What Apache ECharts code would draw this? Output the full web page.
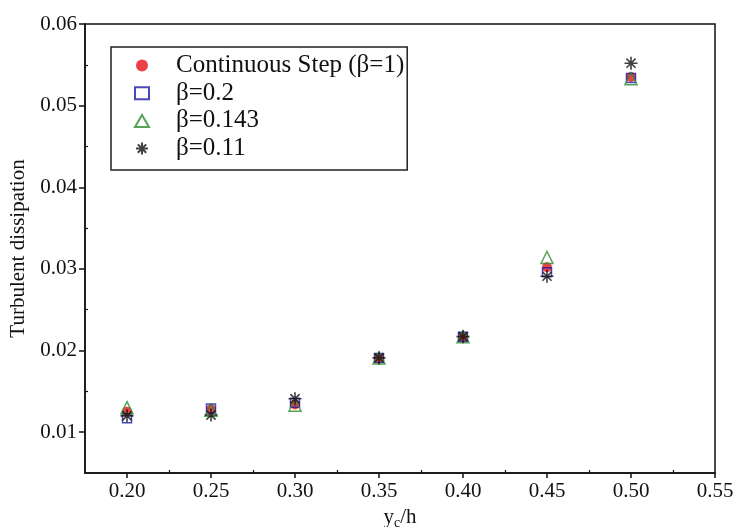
<!DOCTYPE html>
<html>
<head>
<meta charset="utf-8">
<script src="https://cdn.jsdelivr.net/npm/echarts@6/dist/echarts.min.js"></script>
<style>
  html, body { margin: 0; padding: 0; background: #fff; }
  #chart { width: 736px; height: 527px; }
</style>
</head>
<body>
<div id="chart"></div>
<script>
// y_c/h positions
const xValues = [0.20, 0.25, 0.30, 0.35, 0.40, 0.45, 0.50]
// turbulent dissipation per case
const continuousStep = [0.0125, 0.0128, 0.0134, 0.0191, 0.0217, 0.0302, 0.0535]
const beta02 = [0.0117, 0.0129, 0.0136, 0.0191, 0.0217, 0.0296, 0.0534]
const beta0143 = [0.0130, 0.0127, 0.0133, 0.0191, 0.0217, 0.0314, 0.0533]
const beta011 = [0.0120, 0.0121, 0.0141, 0.0191, 0.0217, 0.0291, 0.0552]
// axis ticks
const xTicks = [0.20, 0.25, 0.30, 0.35, 0.40, 0.45, 0.50, 0.55]
const xMinorTicks = [0.225, 0.275, 0.325, 0.375, 0.425, 0.475, 0.525]
const yTicks = [0.01, 0.02, 0.03, 0.04, 0.05, 0.06]
const yMinorTicks = [0.015, 0.025, 0.035, 0.045, 0.055]

const font = 'Liberation Serif'
const starPath = 'path://M0,-10 L0,10 M-10,0 L10,0 M-7,-7 L7,7 M-7,7 L7,-7'

const pairs = (ys) => xValues.map((x, i) => [x, ys[i]])

const chart = echarts.init(document.getElementById('chart'))
chart.setOption({
    backgroundColor: '#fff',
    animation: false,
    grid: {
        left: 85, right: 21, top: 24, bottom: 54,
        outerBoundsMode: 'none',
        show: true,
        borderColor: '#111',
        borderWidth: 1.5,
    },
    legend: {
        orient: 'vertical',
        left: 111, top: 47,
        padding: [6, 3, 9, 23],
        itemWidth: 14,
        itemHeight: 12,
        itemGap: 2.7,
        borderColor: '#222',
        borderWidth: 1.5,
        textStyle: { fontFamily: font, fontSize: 25, color: '#111', lineHeight: 25, padding: [0, 0, 0, 22] },
        data: ['Continuous Step (β=1)', 'β=0.2', 'β=0.143', 'β=0.11'],
    },
    xAxis: [
        {
            type: 'value',
            min: 0.175, max: 0.55,
            name: 'y{s|c}/h',
            nameLocation: 'middle',
            nameGap: 31,
            nameTextStyle: {
                fontFamily: font, fontSize: 21, color: '#111',
                rich: { s: { fontFamily: font, fontSize: 14, color: '#111', verticalAlign: 'bottom', padding: [12, 0, 0, 0] } },
            },
            axisLine: { show: true, lineStyle: { color: '#111', width: 1.5 } },
            axisTick: { show: true, customValues: xTicks, length: 5, lineStyle: { color: '#111', width: 1.5 } },
            axisLabel: {
                customValues: xTicks, margin: 8,
                fontFamily: font, fontSize: 21, color: '#111',
                formatter: (v) => v.toFixed(2),
            },
            splitLine: { show: false },
        },
        {
            type: 'value',
            position: 'bottom',
            min: 0.175, max: 0.55,
            axisLine: { show: false },
            axisTick: { show: true, inside: true, customValues: xMinorTicks, length: 3, lineStyle: { color: '#111', width: 1.2 } },
            axisLabel: { show: false },
            splitLine: { show: false },
        },
    ],
    yAxis: [
        {
            type: 'value',
            min: 0.005, max: 0.06,
            name: 'Turbulent dissipation',
            nameLocation: 'middle',
            nameGap: 54,
            nameTextStyle: { fontFamily: font, fontSize: 21, color: '#111' },
            axisLine: { show: true, lineStyle: { color: '#111', width: 1.5 } },
            axisTick: { show: true, customValues: yTicks, length: 6, lineStyle: { color: '#111', width: 1.5 } },
            axisLabel: {
                customValues: yTicks, margin: 8,
                fontFamily: font, fontSize: 21, color: '#111',
                formatter: (v) => v.toFixed(2),
            },
            splitLine: { show: false },
        },
        {
            type: 'value',
            position: 'left',
            min: 0.005, max: 0.06,
            axisLine: { show: false },
            axisTick: { show: true, inside: true, customValues: yMinorTicks, length: 3, lineStyle: { color: '#111', width: 1.2 } },
            axisLabel: { show: false },
            splitLine: { show: false },
        },
    ],
    series: [
        {
            name: 'Continuous Step (β=1)',
            type: 'scatter',
            symbol: 'circle',
            symbolSize: 10,
            itemStyle: { color: '#e8121a' },
            data: pairs(continuousStep),
        },
        {
            name: 'β=0.2',
            type: 'scatter',
            symbol: 'rect',
            symbolSize: 9,
            itemStyle: { color: 'rgba(255,255,255,0)', borderColor: '#1c1ca8', borderWidth: 1.5 },
            data: pairs(beta02),
        },
        {
            name: 'β=0.143',
            type: 'scatter',
            symbol: 'triangle',
            symbolSize: 12,
            itemStyle: { color: 'rgba(255,255,255,0)', borderColor: '#2e8b2e', borderWidth: 1.5 },
            data: pairs(beta0143),
        },
        {
            name: 'β=0.11',
            type: 'scatter',
            symbol: starPath,
            symbolSize: 13,
            itemStyle: { color: 'rgba(0,0,0,0)', borderColor: '#111', borderWidth: 1.6 },
            data: pairs(beta011),
        },
    ],
})
</script>
</body>
</html>
